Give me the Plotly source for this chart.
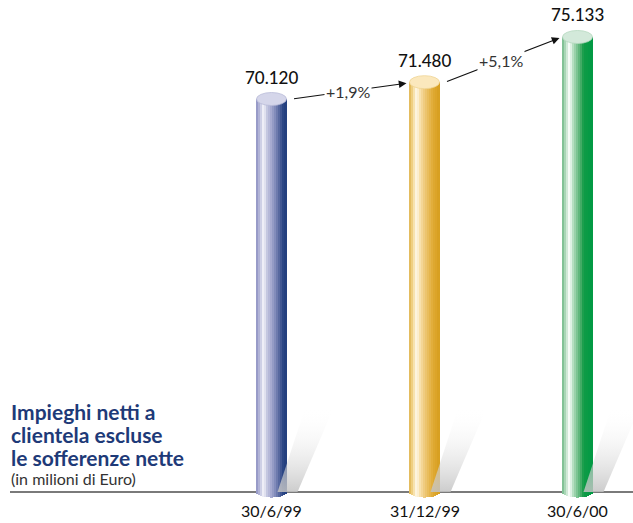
import numpy as np
import plotly.graph_objects as go

# --- data ---------------------------------------------------------------
dates = ["30/6/99", "31/12/99", "30/6/00"]
loans = [70.120, 71.480, 75.133]          # milioni di Euro (in migliaia)
title_lines = ["Impieghi netti a", "clientela escluse", "le sofferenze nette"]
unit_note = "(in milioni di Euro)"

# --- styling ------------------------------------------------------------
W, H = 633, 523
X_PX = 153.0          # px per category step
Y_PX = 12.37          # px per value unit
FLOOR = 38.35         # value drawn at the baseline
BASE_PX = 492         # baseline position in px from top
X0_PX = 271.5         # px of the first category centre

x_range = [-X0_PX / X_PX, (W - X0_PX) / X_PX]
y_range = [FLOOR - (H - BASE_PX) / Y_PX, FLOOR + BASE_PX / Y_PX]

def dx(px):
    return px / X_PX

def dy(px):
    return px / Y_PX

bar_w = dx(30)
n_strip = 15

stripe_keys = [
    [(0.0, "#8c8fc0"), (0.12, "#b8badb"), (0.25, "#f6f6fb"), (0.36, "#c6c8e1"),
     (0.5, "#a6aad0"), (0.65, "#7e88b8"), (0.8, "#4c5f98"), (0.9, "#2c4785"), (1.0, "#203c7c")],
    [(0.0, "#deb24c"), (0.12, "#f2d58c"), (0.25, "#fff8ea"), (0.36, "#f8e2ae"),
     (0.5, "#f0cc80"), (0.65, "#e8bb58"), (0.8, "#e0aa34"), (1.0, "#d79e1e")],
    [(0.0, "#6fb886"), (0.12, "#b5dcc0"), (0.25, "#ffffff"), (0.36, "#b9e0c3"),
     (0.5, "#7cc492"), (0.62, "#4aad6a"), (0.72, "#109b46"), (1.0, "#009a44")],
]
cap_colors = ["#d5d6ea", "#fbe8bd", "#d3e9da"]
cap_edges = ["#b9bbd8", "#efd494", "#b5d8bf"]


def hex_rgb(h):
    h = h.lstrip("#")
    return np.array([int(h[i:i + 2], 16) for i in (0, 2, 4)], float)


def sample(keys, t):
    for (t0, c0), (t1, c1) in zip(keys[:-1], keys[1:]):
        if t0 <= t <= t1:
            f = 0 if t1 == t0 else (t - t0) / (t1 - t0)
            c = hex_rgb(c0) * (1 - f) + hex_rgb(c1) * f
            return "rgb(%d,%d,%d)" % tuple(np.round(c))
    return keys[-1][1]


xpos = np.arange(len(dates), dtype=float)
fig = go.Figure()

# soft cast shadows behind each cylinder
for i, v in enumerate(loans):
    cx = xpos[i]
    sx = [cx + dx(6), cx + dx(26), cx + dx(62), cx + dx(33), cx + dx(6)]
    sy = [FLOOR, FLOOR, FLOOR + dy(84), FLOOR + dy(82), FLOOR]
    fig.add_trace(go.Scatter(
        x=sx, y=sy, mode="lines", fill="toself", line=dict(width=0),
        fillgradient=dict(type="vertical",
                          colorscale=[[0, "rgba(195,195,195,0.85)"], [1, "rgba(255,255,255,0)"]]),
        hoverinfo="skip", showlegend=False))

# baseline
fig.add_shape(type="line", xref="paper", yref="y", x0=10 / W, x1=1, y0=FLOOR, y1=FLOOR,
              line=dict(color="#7a7a7a", width=2), layer="below")

# cylinder bodies: vertical stripes with rounded bottoms
sw = bar_w / n_strip
for j in range(n_strip):
    t = (j + 0.5) / n_strip
    u = 2 * t - 1
    bottom = FLOOR - dy(5.5) * np.sqrt(max(0.0, 1 - u * u))
    colors = [sample(stripe_keys[i], t) for i in range(len(loans))]
    fig.add_trace(go.Bar(
        x=xpos - bar_w / 2 + (j + 0.5) * sw,
        y=[v - bottom for v in loans],
        base=bottom,
        width=sw * 1.1,
        marker=dict(color=colors, line=dict(width=0)),
        hoverinfo="skip", showlegend=False))

# cylinder caps
for i, v in enumerate(loans):
    fig.add_shape(type="circle", xref="x", yref="y",
                  x0=xpos[i] - bar_w / 2, x1=xpos[i] + bar_w / 2,
                  ysizemode="pixel", yanchor=v, y0=-6.5, y1=6.5,
                  fillcolor=cap_colors[i], line=dict(color=cap_edges[i], width=0.8))

annotations = []

# growth arrows between consecutive periods
for i in range(len(loans) - 1):
    x_tail, y_tail = xpos[i] + dx(21), loans[i]
    x_head, y_head = xpos[i + 1] - dx(18), loans[i + 1] - dy(1)
    annotations.append(dict(
        x=x_head, y=y_head, ax=x_tail, ay=y_tail, xref="x", yref="y",
        axref="x", ayref="y", text="", showarrow=True,
        arrowhead=2, arrowsize=1.4, arrowwidth=1.1, arrowcolor="#111111"))
    pct = (loans[i + 1] / loans[i] - 1) * 100
    annotations.append(dict(
        x=(x_tail + x_head) / 2 - dx(2), y=(y_tail + y_head) / 2,
        xref="x", yref="y", showarrow=False, bgcolor="white",
        text=("+%.1f%%" % pct).replace(".", ","),
        font=dict(family="Lato", size=16, color="#333333")))

# value labels and period labels
for i, v in enumerate(loans):
    annotations.append(dict(
        x=xpos[i], y=v, xref="x", yref="y", yshift=22, showarrow=False,
        text="%.3f" % v, font=dict(family="Lato", size=17, color="#111111", weight=500)))
    annotations.append(dict(
        x=xpos[i], y=FLOOR, xref="x", yref="y", yshift=-18, showarrow=False,
        text=dates[i], font=dict(family="Lato", size=16, color="#111111")))

# chart title block
for k, line in enumerate(title_lines):
    annotations.append(dict(
        x=9 / W, y=1 - (411 + 23 * k) / H, xref="paper", yref="paper",
        xanchor="left", yanchor="middle", showarrow=False, text="<b>%s</b>" % line,
        font=dict(family="Lato", size=21, color="#1e3a78", weight=900)))
annotations.append(dict(
    x=9 / W, y=1 - 478 / H, xref="paper", yref="paper", xanchor="left", yanchor="middle",
    showarrow=False, text=unit_note, font=dict(family="Lato", size=16, color="#333333")))

fig.update_layout(
    width=W, height=H, margin=dict(l=0, r=0, t=0, b=0),
    paper_bgcolor="white", plot_bgcolor="white",
    barmode="overlay", bargap=0,
    xaxis=dict(range=x_range, visible=False, fixedrange=True),
    yaxis=dict(range=y_range, visible=False, fixedrange=True),
    annotations=annotations, showlegend=False)

fig.write_html("out.html")
